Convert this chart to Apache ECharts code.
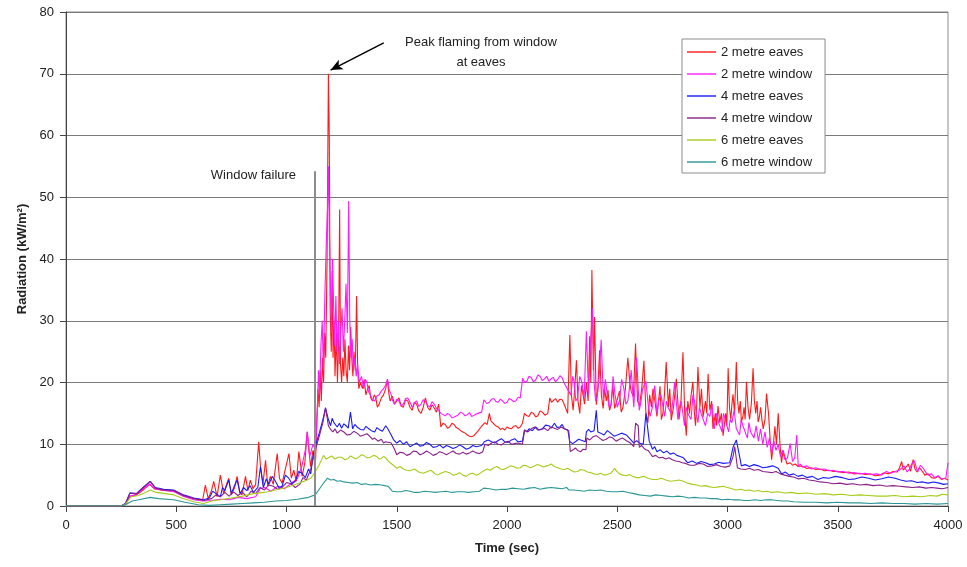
<!DOCTYPE html>
<html>
<head>
<meta charset="utf-8">
<title>Radiation vs time</title>
<script src="https://cdn.jsdelivr.net/npm/echarts@6/dist/echarts.min.js"></script>
<style>
  html, body { margin: 0; padding: 0; background: #fff; }
  #chart { width: 967px; height: 567px; }
</style>
</head>
<body>
<div id="chart"></div>
<script>
// [time (sec), radiation (kW/m2)]
const seriesNames = ['2 metre eaves', '2 metre window', '4 metre eaves', '4 metre window', '6 metre eaves', '6 metre window']
const seriesColors = ['#ff1a1a', '#ff1aff', '#1a1aff', '#8a1f8a', '#a6cc1a', '#2a9696']

const eaves2 = [
  [0, 0], [250, 0], [270, 0.3], [290, 1.5], [320, 1.8], [350, 2.6], [380, 3.5], [400, 2.8], [440, 2.5], [490, 2.4],
  [530, 1.7], [580, 1.2], [620, 1.0], [632, 3.4], [645, 1.2], [660, 2.5], [670, 4.0], [685, 1.5], [700, 5.0], [715, 2.0],
  [728, 3.5], [738, 4.5], [750, 1.8], [765, 3.0], [776, 4.8], [788, 2.2], [798, 1.8], [814, 4.8], [825, 2.5], [836, 4.2],
  [848, 2.8], [860, 3.5], [874, 10.4], [882, 6.4], [893, 3.5], [905, 7.4], [915, 3.2], [927, 4.8], [940, 3.5], [958, 8.5],
  [968, 4.5], [980, 3.7], [995, 6.0], [1011, 8.5], [1022, 4.5], [1033, 5.8], [1045, 4.0], [1056, 8.8], [1071, 4.8], [1083, 7.0],
  [1094, 12.0], [1109, 6.4], [1120, 9.0], [1132, 7.5], [1138, 14], [1143, 19], [1148, 16], [1153, 22], [1158, 17], [1163, 24],
  [1168, 20], [1173, 28], [1178, 24], [1184, 40], [1190, 70], [1194, 60], [1198, 32], [1203, 25], [1207, 38], [1211, 24],
  [1216, 30], [1220, 21], [1226, 28], [1231, 20], [1236, 26], [1241, 48], [1245, 23], [1250, 20], [1255, 24], [1260, 21],
  [1265, 27], [1270, 22], [1276, 20], [1281, 26], [1286, 22], [1291, 29], [1296, 24], [1301, 21], [1306, 25], [1312, 22],
  [1318, 34], [1323, 22], [1328, 19], [1335, 20], [1345, 19], [1352, 20.5], [1360, 18], [1368, 19], [1375, 19.5], [1382, 17.5],
  [1390, 17], [1398, 18], [1405, 17.5], [1412, 16], [1420, 16.5], [1430, 17.5], [1440, 18], [1450, 19], [1458, 20.5], [1465, 18],
  [1470, 17], [1480, 17.8], [1490, 16.5], [1500, 17], [1510, 17.5], [1520, 16.2], [1530, 16], [1540, 17.2], [1550, 17], [1560, 16],
  [1570, 15.5], [1580, 16.8], [1590, 16.5], [1600, 15.4], [1610, 15], [1620, 16], [1630, 17.5], [1640, 16], [1650, 15.5], [1660, 16.4],
  [1668, 16], [1680, 15.2], [1690, 16.5], [1700, 12.8], [1710, 13.4], [1720, 13.2], [1730, 12.6], [1740, 12.8], [1750, 13.4], [1760, 13.2],
  [1770, 12.7], [1780, 12.5], [1790, 12.2], [1800, 12.0], [1810, 11.8], [1820, 11.5], [1830, 11.3], [1840, 11.2], [1850, 11.4], [1860, 11.8],
  [1870, 12.2], [1882, 12.8], [1890, 13.0], [1900, 13.5], [1910, 13.2], [1920, 15], [1927, 13.8], [1935, 13.5], [1948, 13.0], [1960, 12.8],
  [1970, 12.4], [1980, 12.6], [1990, 12.3], [2000, 12.8], [2010, 12.6], [2020, 12.5], [2030, 12.9], [2040, 13], [2050, 12.6], [2060, 12.8],
  [2070, 13.4], [2079, 15], [2090, 14.6], [2100, 14.5], [2110, 15.2], [2120, 15], [2130, 14.4], [2140, 14.6], [2150, 15.4], [2160, 15.2],
  [2172, 14.7], [2185, 15], [2194, 17.5], [2202, 16.8], [2210, 17], [2220, 17.4], [2230, 16.8], [2240, 17.3], [2250, 17.2], [2258, 16.6],
  [2265, 16.5], [2275, 15], [2285, 27.7], [2292, 18], [2300, 15.5], [2307, 19], [2315, 23.6], [2322, 17], [2330, 15], [2338, 19.5],
  [2345, 18], [2352, 16.5], [2360, 20], [2368, 17], [2375, 27.5], [2380, 20], [2385, 38.2], [2392, 22], [2397, 30.6], [2405, 16.4],
  [2412, 19], [2420, 25.2], [2428, 18], [2436, 15.8], [2443, 19], [2450, 17], [2458, 18.8], [2465, 15.5], [2472, 16.4], [2480, 19.5],
  [2488, 15.8], [2498, 17], [2510, 18.6], [2518, 15.2], [2526, 16], [2537, 19], [2548, 24], [2557, 20], [2563, 18.6], [2573, 17.7],
  [2583, 26.3], [2592, 17], [2601, 16.2], [2611, 19], [2621, 23.5], [2630, 15], [2639, 13.5], [2647, 18], [2655, 16], [2662, 19],
  [2669, 17.4], [2680, 14.5], [2694, 19.4], [2700, 14], [2707, 15], [2714, 18], [2722, 23.3], [2732, 16], [2738, 19], [2745, 13.9],
  [2755, 16], [2768, 20.6], [2780, 14], [2789, 17], [2798, 24.9], [2806, 15], [2813, 11.4], [2820, 17], [2828, 15], [2835, 18],
  [2843, 20.1], [2850, 15], [2855, 13], [2860, 16], [2866, 22.5], [2875, 16], [2882, 19], [2889, 14.4], [2900, 17], [2906, 15],
  [2912, 21.4], [2920, 15.5], [2928, 17], [2934, 12.5], [2945, 15], [2951, 13], [2957, 16.2], [2965, 13.5], [2972, 15], [2980, 11.4],
  [2992, 15], [2997, 13], [3003, 22.3], [3009, 16], [3015, 14], [3020, 16.5], [3025, 18.1], [3032, 15], [3040, 23.3], [3046, 17],
  [3052, 15], [3058, 17], [3063, 13.6], [3070, 14.5], [3075, 16], [3080, 14], [3086, 20.1], [3093, 16], [3100, 14], [3108, 16.5],
  [3116, 22.3], [3122, 17], [3128, 15], [3134, 17], [3139, 13.6], [3145, 14.5], [3150, 16], [3156, 14], [3162, 12.5], [3170, 14],
  [3177, 18.2], [3186, 15], [3193, 11], [3200, 7.5], [3208, 10], [3215, 12.9], [3222, 10], [3230, 15], [3238, 10], [3245, 7],
  [3252, 9], [3260, 8], [3270, 6.8], [3285, 7], [3295, 6.6], [3307, 6.8], [3320, 6.4], [3337, 6.5], [3358, 6.1], [3380, 6.2],
  [3400, 5.9], [3420, 6.0], [3440, 5.7], [3460, 5.8], [3480, 5.6], [3500, 5.6], [3525, 5.4], [3550, 5.5], [3575, 5.2], [3600, 5.3],
  [3625, 5.1], [3650, 5.2], [3670, 4.9], [3690, 5.0], [3710, 5.4], [3730, 5.2], [3750, 5.6], [3770, 5.5], [3780, 6.2], [3790, 7.2],
  [3797, 5.8], [3805, 5.5], [3812, 6.4], [3820, 6.8], [3830, 5.6], [3842, 7.5], [3850, 6.0], [3860, 5.5], [3870, 6.2], [3880, 5.8],
  [3895, 5.0], [3910, 5.2], [3925, 4.6], [3940, 4.5], [3955, 4.8], [3970, 4.3], [3985, 4.5], [4000, 4.2]
]

const window2 = [
  [0, 0], [250, 0], [270, 0.3], [290, 1.6], [320, 1.9], [350, 2.8], [380, 3.6], [400, 2.8], [440, 2.6], [490, 2.3],
  [530, 1.6], [580, 1.0], [620, 0.8], [660, 0.9], [700, 1.1], [740, 1.0], [780, 1.4], [820, 1.2], [860, 1.5], [880, 2.8],
  [900, 3.0], [930, 2.4], [960, 3.2], [990, 2.8], [1020, 3.6], [1050, 4.5], [1070, 6.5], [1085, 9.0], [1094, 12.0], [1105, 8.0],
  [1120, 10], [1132, 9], [1140, 16], [1145, 22], [1150, 18], [1156, 26], [1162, 30], [1167, 22], [1174, 34], [1180, 42],
  [1186, 48], [1190, 55], [1194, 45], [1199, 36], [1204, 28], [1209, 40], [1214, 32], [1219, 26], [1224, 34], [1229, 25],
  [1235, 30], [1240, 23], [1246, 28], [1252, 32], [1258, 25], [1264, 30], [1270, 36], [1276, 28], [1282, 49.4], [1287, 30],
  [1292, 24], [1298, 27], [1303, 22], [1310, 24], [1316, 21], [1322, 23], [1330, 20], [1340, 21], [1350, 19], [1358, 20.5],
  [1365, 20], [1372, 18.5], [1380, 18], [1390, 17.2], [1400, 17], [1410, 17.8], [1420, 18], [1430, 18.6], [1440, 19], [1450, 19.6],
  [1458, 20.5], [1466, 18.8], [1475, 18], [1482, 17], [1490, 16.5], [1500, 17.3], [1510, 17], [1520, 16.2], [1530, 16.5], [1540, 17.4],
  [1550, 17.5], [1560, 16.8], [1570, 16], [1580, 16.7], [1590, 17], [1600, 16.1], [1610, 16.5], [1620, 17.2], [1630, 17], [1640, 16.3],
  [1650, 16], [1660, 16.9], [1670, 16.5], [1680, 15.8], [1690, 15.5], [1700, 15], [1710, 14.8], [1720, 14.6], [1730, 15.0], [1740, 14.8],
  [1750, 14.3], [1760, 14.4], [1777, 14.7], [1790, 15.2], [1800, 15], [1810, 14.6], [1820, 14.8], [1830, 15.1], [1840, 14.5], [1855, 14.8],
  [1868, 15], [1885, 15.2], [1895, 17.2], [1908, 16.6], [1920, 16.8], [1930, 17.3], [1940, 17.4], [1950, 16.9], [1960, 16.8], [1970, 17.3],
  [1980, 17], [1990, 16.6], [2000, 16.8], [2010, 17.4], [2020, 17.2], [2030, 16.9], [2040, 17], [2050, 17.6], [2060, 17.5], [2071, 20.7],
  [2080, 20.0], [2090, 20.2], [2100, 21.0], [2110, 20.8], [2120, 20.1], [2130, 20.4], [2140, 21.2], [2150, 21], [2160, 20.3], [2170, 20.6],
  [2180, 21.0], [2190, 20.2], [2200, 20.6], [2210, 20.8], [2220, 20.1], [2230, 20.5], [2240, 21.1], [2250, 20.8], [2258, 20.0], [2265, 20.2],
  [2276, 18.8], [2290, 18], [2298, 21], [2305, 20], [2312, 17], [2320, 17.5], [2330, 21], [2340, 20], [2350, 17.5], [2360, 28.3],
  [2370, 18], [2378, 26], [2388, 32], [2395, 20], [2402, 17], [2410, 18], [2418, 21], [2427, 26.9], [2437, 17.5], [2446, 20.5],
  [2455, 18], [2463, 16], [2472, 16.4], [2481, 21], [2490, 18], [2500, 16], [2510, 17], [2520, 20.5], [2530, 19], [2539, 16.5],
  [2548, 17], [2555, 19], [2563, 22], [2575, 16], [2588, 24], [2600, 15.5], [2608, 17], [2615, 19], [2630, 20.2], [2640, 16.5],
  [2649, 14.5], [2660, 16], [2670, 19.5], [2680, 15], [2688, 17], [2698, 18], [2715, 14.5], [2723, 17], [2730, 16], [2745, 15],
  [2752, 17], [2760, 20], [2775, 14], [2782, 16], [2790, 17], [2805, 13], [2812, 16], [2820, 15], [2835, 14], [2843, 18],
  [2850, 17], [2866, 13.5], [2873, 16], [2880, 15], [2900, 13], [2910, 15], [2920, 14.5], [2930, 16.5], [2940, 12.5], [2950, 15],
  [2960, 13.5], [2975, 12], [2982, 15], [2990, 14], [3005, 12], [3012, 14], [3020, 13.5], [3030, 15.5], [3040, 12.5], [3055, 11.5],
  [3062, 14], [3070, 13], [3090, 11], [3097, 13.5], [3105, 12], [3120, 11], [3130, 13], [3140, 10.5], [3150, 12.5], [3160, 10],
  [3170, 12], [3180, 9.5], [3190, 11], [3200, 8.5], [3210, 10.5], [3220, 9], [3230, 10], [3240, 8], [3250, 9], [3260, 7.5],
  [3272, 7.8], [3284, 10.1], [3295, 7.2], [3305, 7.8], [3314, 11.5], [3321, 6.4], [3330, 6.8], [3340, 6.3], [3360, 6.5], [3380, 6.0],
  [3400, 6.2], [3420, 5.9], [3440, 6.0], [3460, 5.7], [3480, 5.8], [3500, 5.5], [3525, 5.6], [3550, 5.3], [3575, 5.4], [3600, 5.2],
  [3625, 5.3], [3650, 5.1], [3675, 5.2], [3700, 5.0], [3720, 5.6], [3740, 5.3], [3760, 5.6], [3780, 5.8], [3800, 6.5], [3815, 5.5],
  [3825, 6.0], [3835, 6.8], [3848, 7.3], [3862, 5.5], [3875, 6.6], [3890, 6.0], [3900, 5.4], [3910, 5.0], [3925, 5.2], [3940, 4.6],
  [3955, 4.9], [3970, 4.4], [3990, 4.5], [4000, 7.0]
]

const eaves4 = [
  [0, 0], [250, 0], [270, 0.4], [290, 2.1], [320, 2.0], [350, 3.0], [382, 4.0], [405, 3.0], [443, 2.7], [488, 2.6],
  [533, 1.8], [579, 1.3], [624, 1.0], [650, 1.3], [665, 2.4], [680, 2.0], [700, 1.5], [710, 3.0], [720, 2.5], [738, 4.2],
  [750, 2.0], [763, 3.2], [776, 4.2], [790, 2.0], [805, 3.0], [820, 2.5], [835, 3.3], [850, 2.2], [870, 3.0], [882, 6.4],
  [895, 3.0], [908, 4.4], [920, 3.5], [935, 4.8], [950, 4.0], [965, 3.0], [980, 3.2], [995, 5.0], [1010, 4.5], [1025, 3.6],
  [1040, 4.0], [1055, 5.6], [1070, 5.3], [1085, 4.6], [1100, 6.0], [1110, 5.2], [1120, 8.0], [1135, 10.2], [1150, 12], [1165, 14],
  [1177, 15.9], [1190, 14], [1200, 13], [1207, 14.2], [1215, 13.5], [1230, 12.8], [1240, 13.4], [1250, 12.6], [1260, 13.3], [1270, 13],
  [1280, 12.6], [1290, 15.2], [1300, 12.5], [1310, 13.2], [1320, 12.8], [1335, 12.4], [1350, 12.3], [1360, 12.9], [1370, 12.6], [1385, 12.2],
  [1400, 12.0], [1410, 12.7], [1420, 12.4], [1435, 12.1], [1450, 13], [1458, 12.6], [1475, 11.5], [1486, 10.7], [1500, 10.2], [1515, 10.6],
  [1530, 10.0], [1545, 10.4], [1560, 9.6], [1575, 9.9], [1590, 10.2], [1605, 9.7], [1620, 9.8], [1635, 10.3], [1650, 10.0], [1665, 9.5],
  [1680, 9.6], [1695, 9.9], [1710, 9.4], [1725, 9.8], [1740, 9.6], [1755, 9.3], [1770, 9.5], [1785, 9.9], [1800, 9.6], [1815, 9.2],
  [1830, 9.4], [1845, 9.8], [1860, 9.6], [1885, 9.8], [1897, 10.4], [1915, 10.7], [1930, 10.4], [1945, 10.2], [1960, 10.6], [1975, 10.9],
  [1990, 10.4], [2005, 10.3], [2020, 10.7], [2035, 10.9], [2050, 10.4], [2070, 10.5], [2079, 12.3], [2090, 12.0], [2100, 12.5], [2115, 12.2],
  [2130, 12.8], [2145, 12.3], [2160, 12.5], [2175, 13.1], [2190, 13], [2200, 12.6], [2215, 13.4], [2228, 12.7], [2240, 12.8], [2250, 13.2],
  [2260, 12.5], [2276, 12.3], [2285, 10.4], [2298, 10.1], [2310, 10.4], [2325, 10.8], [2340, 10.6], [2355, 10.4], [2360, 12.0], [2370, 12.4],
  [2380, 12.0], [2395, 12.2], [2405, 15.5], [2412, 12], [2425, 11.8], [2440, 11.5], [2455, 12.2], [2470, 11.8], [2485, 11.3], [2500, 11.5],
  [2520, 11.8], [2541, 11.5], [2560, 10.8], [2575, 10.2], [2588, 10.6], [2600, 10.2], [2618, 10], [2630, 15.0], [2645, 10.5], [2660, 9.2],
  [2670, 9.6], [2680, 8.8], [2695, 9.1], [2710, 8.6], [2725, 8.9], [2740, 8.4], [2755, 8.6], [2770, 8.2], [2785, 8.0], [2800, 7.8],
  [2820, 7.0], [2840, 7.3], [2860, 6.9], [2880, 7.2], [2900, 7.0], [2920, 6.7], [2940, 6.8], [2960, 7.1], [2980, 6.9], [3010, 7.0],
  [3025, 9.5], [3040, 10.7], [3055, 8], [3063, 6.5], [3080, 6.7], [3100, 6.4], [3120, 6.7], [3140, 6.5], [3160, 6.2], [3180, 6.3],
  [3205, 6.5], [3230, 6.1], [3245, 5.2], [3262, 5.5], [3280, 5.0], [3300, 5.2], [3320, 4.8], [3340, 5.0], [3360, 4.6], [3385, 4.8],
  [3410, 4.3], [3435, 4.6], [3460, 4.5], [3490, 4.8], [3520, 4.6], [3550, 4.3], [3580, 4.4], [3610, 4.7], [3640, 4.5], [3670, 4.2],
  [3700, 4.4], [3730, 4.7], [3760, 4.5], [3785, 4.2], [3810, 4.0], [3835, 4.1], [3860, 3.8], [3885, 3.9], [3910, 3.7], [3935, 3.9],
  [3960, 3.7], [3980, 3.5], [4000, 3.6]
]

const window4 = [
  [0, 0], [250, 0], [270, 0.4], [290, 2.1], [320, 2.0], [350, 3.0], [382, 4.0], [405, 2.9], [443, 2.6], [488, 2.5],
  [533, 1.7], [579, 1.2], [624, 0.9], [660, 1.2], [680, 1.8], [700, 1.5], [720, 2.2], [740, 1.6], [760, 2.3], [780, 1.7],
  [800, 2.2], [820, 1.5], [840, 2.4], [860, 2.0], [880, 3.0], [900, 2.6], [920, 3.4], [940, 3.2], [960, 2.7], [980, 3.0],
  [1000, 3.8], [1020, 3.6], [1040, 3.0], [1060, 3.5], [1075, 4.6], [1090, 4.2], [1110, 6.0], [1130, 9.0], [1150, 11.5], [1165, 13.5],
  [1177, 15.9], [1190, 13.0], [1200, 12.4], [1210, 12.0], [1220, 12.5], [1230, 11.8], [1245, 12.3], [1260, 12.0], [1275, 11.5], [1290, 11.6],
  [1305, 12.1], [1320, 11.8], [1335, 11.3], [1350, 11.5], [1365, 11.7], [1380, 11.2], [1390, 10.8], [1400, 11], [1415, 10.5], [1430, 10.8],
  [1440, 10.2], [1450, 10.4], [1475, 10.2], [1490, 9.2], [1500, 8.3], [1515, 8.7], [1530, 8.6], [1545, 8.2], [1560, 8.4], [1575, 8.9],
  [1590, 8.8], [1605, 8.3], [1620, 8.5], [1635, 8.9], [1650, 8.6], [1665, 8.2], [1680, 8.4], [1695, 8.8], [1710, 8.6], [1725, 8.3],
  [1740, 8.6], [1755, 8.9], [1770, 8.5], [1785, 8.4], [1800, 8.7], [1815, 8.4], [1830, 8.6], [1845, 8.9], [1860, 8.6], [1875, 8.5],
  [1890, 8.8], [1900, 10.0], [1915, 9.8], [1930, 10.2], [1945, 10.4], [1960, 10.0], [1975, 9.9], [1990, 10.3], [2005, 10.5], [2020, 10.0],
  [2035, 10.1], [2050, 10.2], [2070, 10.0], [2080, 12.3], [2095, 12.0], [2110, 12.5], [2125, 12.8], [2140, 12.3], [2155, 12.4], [2170, 12.6],
  [2185, 12.2], [2200, 12.8], [2215, 12.6], [2230, 12.4], [2245, 12.8], [2260, 12.5], [2280, 12.2], [2287, 8.8], [2300, 9.1], [2310, 9.4],
  [2320, 9.0], [2335, 8.8], [2345, 9.2], [2358, 9.1], [2362, 11.0], [2375, 10.7], [2390, 11.2], [2405, 11.4], [2420, 11.0], [2435, 10.6],
  [2450, 10.8], [2465, 11.2], [2480, 11.0], [2495, 10.5], [2510, 10.8], [2525, 11.0], [2540, 10.6], [2560, 10.2], [2575, 9.6], [2583, 13.4],
  [2595, 13.0], [2600, 9.5], [2610, 9.8], [2620, 9.4], [2630, 9.1], [2640, 9.0], [2650, 8.5], [2660, 8.0], [2675, 8.2], [2690, 7.8],
  [2705, 7.9], [2720, 7.6], [2735, 7.8], [2750, 7.5], [2765, 7.3], [2780, 7.2], [2795, 7.0], [2810, 6.9], [2830, 6.6], [2850, 6.6],
  [2870, 6.9], [2890, 6.8], [2910, 6.4], [2930, 6.5], [2950, 6.7], [2970, 6.4], [2990, 6.3], [3010, 6.5], [3025, 8], [3033, 9.6],
  [3045, 6.2], [3060, 6.0], [3080, 5.9], [3100, 6.1], [3120, 5.8], [3140, 5.9], [3160, 5.6], [3180, 5.5], [3200, 5.4], [3220, 5.6],
  [3240, 5.2], [3260, 5.0], [3280, 4.8], [3300, 4.7], [3320, 4.4], [3345, 4.5], [3370, 4.2], [3395, 4.1], [3420, 3.9], [3450, 3.8],
  [3480, 3.6], [3510, 3.7], [3540, 3.5], [3570, 3.6], [3600, 3.4], [3630, 3.5], [3660, 3.3], [3690, 3.4], [3720, 3.2], [3750, 3.3],
  [3780, 3.2], [3810, 3.1], [3840, 3.0], [3870, 3.1], [3900, 2.9], [3925, 3.0], [3950, 2.9], [3975, 2.8], [4000, 3.0]
]

const eaves6 = [
  [0, 0], [250, 0], [270, 0.3], [295, 1.5], [330, 1.7], [360, 2.2], [382, 2.6], [410, 2.2], [450, 2.0], [490, 1.8],
  [530, 1.2], [580, 0.7], [624, 0.4], [660, 0.8], [700, 1.0], [750, 1.3], [800, 1.6], [850, 2.0], [900, 2.2], [950, 2.6],
  [1000, 3.0], [1050, 3.6], [1080, 4.0], [1110, 4.5], [1130, 5.5], [1150, 6.8], [1168, 8.2], [1180, 7.6], [1190, 7.8], [1205, 8.1],
  [1220, 7.6], [1235, 7.9], [1250, 7.9], [1265, 7.5], [1280, 7.7], [1290, 8.1], [1300, 7.9], [1315, 7.6], [1330, 8.0], [1340, 8.3],
  [1350, 8.2], [1365, 7.8], [1380, 7.9], [1395, 8.2], [1410, 8.0], [1420, 7.6], [1430, 7.7], [1440, 8.0], [1450, 7.8], [1460, 7.3],
  [1470, 7.0], [1485, 6.6], [1500, 6.1], [1515, 6.4], [1530, 6.0], [1545, 5.8], [1560, 5.7], [1580, 6.0], [1600, 5.5], [1620, 5.3],
  [1640, 5.6], [1655, 5.8], [1670, 5.3], [1685, 5.0], [1700, 5.3], [1720, 5.6], [1740, 5.4], [1755, 5.0], [1770, 5.1], [1785, 5.4],
  [1800, 5.0], [1815, 4.8], [1830, 5.2], [1845, 5.3], [1860, 5.0], [1870, 5.1], [1882, 5.4], [1895, 5.7], [1910, 6.0], [1925, 5.8],
  [1940, 6.2], [1955, 6.4], [1970, 6.0], [1985, 5.9], [2000, 6.2], [2015, 6.5], [2030, 6.4], [2045, 6.1], [2060, 6.2], [2075, 6.6],
  [2090, 6.5], [2105, 6.2], [2120, 6.4], [2135, 6.7], [2150, 6.6], [2165, 6.3], [2180, 6.5], [2190, 6.6], [2200, 6.8], [2215, 6.4],
  [2230, 6.2], [2245, 6.0], [2260, 5.9], [2275, 6.1], [2290, 5.8], [2305, 5.5], [2320, 5.6], [2335, 5.9], [2350, 5.8], [2365, 5.5],
  [2380, 5.4], [2395, 5.2], [2410, 5.1], [2425, 5.3], [2440, 5.0], [2455, 5.1], [2470, 5.3], [2480, 5.7], [2488, 6.1], [2498, 5.6],
  [2510, 5.2], [2525, 5.0], [2540, 4.9], [2555, 5.1], [2570, 4.8], [2585, 4.6], [2600, 4.6], [2620, 4.8], [2640, 4.5], [2660, 4.3],
  [2680, 4.3], [2700, 4.5], [2720, 4.2], [2740, 4.0], [2760, 4.1], [2780, 4.2], [2800, 4.0], [2820, 3.7], [2840, 3.5], [2860, 3.4],
  [2880, 3.2], [2900, 3.3], [2920, 3.1], [2940, 3.0], [2960, 3.1], [2980, 3.2], [3000, 3.0], [3020, 2.8], [3040, 2.6], [3060, 2.7],
  [3080, 2.5], [3100, 2.6], [3120, 2.4], [3140, 2.5], [3160, 2.3], [3180, 2.4], [3200, 2.2], [3230, 2.3], [3260, 2.1], [3290, 2.2],
  [3320, 2.0], [3360, 2.1], [3400, 1.9], [3440, 2.0], [3480, 1.8], [3520, 1.9], [3560, 1.7], [3600, 1.8], [3640, 1.7], [3680, 1.6],
  [3720, 1.6], [3760, 1.7], [3800, 1.5], [3840, 1.6], [3880, 1.5], [3920, 1.7], [3950, 1.6], [3975, 1.9], [4000, 1.8]
]

const window6 = [
  [0, 0], [250, 0], [270, 0.2], [300, 0.8], [330, 1.0], [382, 1.4], [420, 1.2], [488, 1.0], [540, 0.6], [600, 0.2],
  [650, 0.1], [700, 0.2], [750, 0.3], [800, 0.4], [850, 0.5], [900, 0.6], [950, 0.8], [1000, 0.9], [1050, 1.1], [1100, 1.4],
  [1130, 1.8], [1150, 2.8], [1170, 3.8], [1186, 4.5], [1200, 4.2], [1215, 4.3], [1230, 4.0], [1245, 4.1], [1260, 3.9], [1280, 3.8],
  [1300, 3.7], [1320, 3.8], [1340, 3.5], [1360, 3.6], [1380, 3.4], [1405, 3.5], [1430, 3.4], [1445, 3.3], [1460, 3.2], [1470, 2.8],
  [1480, 2.4], [1500, 2.3], [1520, 2.3], [1540, 2.5], [1560, 2.4], [1580, 2.2], [1600, 2.2], [1625, 2.4], [1650, 2.3], [1675, 2.2],
  [1700, 2.3], [1725, 2.4], [1750, 2.2], [1775, 2.3], [1800, 2.3], [1825, 2.2], [1850, 2.3], [1875, 2.4], [1895, 2.9], [1920, 2.8],
  [1950, 2.6], [1975, 2.7], [2000, 2.7], [2025, 2.9], [2050, 2.8], [2075, 2.7], [2100, 2.9], [2125, 3.0], [2150, 2.7], [2175, 2.9],
  [2200, 3.0], [2225, 2.9], [2250, 2.8], [2270, 3.0], [2280, 2.6], [2300, 2.6], [2325, 2.5], [2350, 2.4], [2375, 2.6], [2400, 2.5],
  [2425, 2.6], [2450, 2.4], [2475, 2.3], [2500, 2.3], [2525, 2.4], [2550, 2.2], [2575, 2.0], [2600, 1.8], [2625, 1.7], [2650, 1.6],
  [2675, 1.8], [2700, 1.7], [2725, 1.6], [2750, 1.5], [2775, 1.6], [2800, 1.5], [2825, 1.3], [2850, 1.4], [2875, 1.3], [2900, 1.3],
  [2925, 1.2], [2950, 1.2], [2975, 1.0], [3000, 1.1], [3025, 1.0], [3050, 1.0], [3075, 0.9], [3100, 0.9], [3125, 1.0], [3150, 0.9],
  [3175, 1.0], [3200, 1.0], [3225, 0.9], [3250, 0.8], [3275, 0.8], [3300, 0.7], [3350, 0.6], [3400, 0.6], [3450, 0.5], [3500, 0.6],
  [3550, 0.5], [3600, 0.5], [3650, 0.4], [3700, 0.5], [3750, 0.4], [3800, 0.4], [3850, 0.3], [3900, 0.4], [3950, 0.3], [4000, 0.4]
]

// annotations (data coordinates)
const peakArrow = [[1441, 75.0], [1200, 70.6]]
const peakLabel = [1882, 73.4]
const failureLine = [[1127, 54.2], [1127, 0]]
const failureLabel = [850, 53.6]

const allData = [eaves2, window2, eaves4, window4, eaves6, window6]
const textColor = '#222'
const font = 'Arial, "Liberation Sans", sans-serif'
// flat line icon for the legend (the outer moves pin the icon box to 29 x 14)
const legendLine = 'path://M0,0 M0,6.3 L29,6.3 L29,7.7 L0,7.7 Z M29,14'

const chart = echarts.init(document.getElementById('chart'), null, { renderer: 'canvas' })

const series = allData.map((d, i) => ({
  name: seriesNames[i],
  type: 'line',
  data: d,
  symbol: 'none',
  showSymbol: false,
  animation: false,
  color: seriesColors[i],
  lineStyle: { width: 1.1, color: seriesColors[i] },
  emphasis: { disabled: true }
}))

// arrow to the peak + its label
series[0].markLine = {
  silent: true,
  animation: false,
  symbol: ['none', 'arrow'],
  symbolSize: [8, 12],
  label: { show: false },
  lineStyle: { color: '#000', width: 1.5, type: 'solid' },
  data: [[{ coord: peakArrow[0] }, { coord: peakArrow[1] }]]
}
series[0].markPoint = {
  silent: true,
  animation: false,
  symbol: 'rect',
  symbolSize: 0,
  label: {
    show: true,
    position: 'inside',
    formatter: 'Peak flaming from window\nat eaves',
    color: textColor,
    fontFamily: font,
    fontSize: 13,
    lineHeight: 20,
    align: 'center'
  },
  data: [{ coord: peakLabel }]
}
// window failure marker
series[1].markLine = {
  silent: true,
  animation: false,
  symbol: ['none', 'none'],
  label: { show: false },
  lineStyle: { color: '#8c8c8c', width: 2, type: 'solid' },
  data: [[{ coord: failureLine[0] }, { coord: failureLine[1] }]]
}
series[1].markPoint = {
  silent: true,
  animation: false,
  symbol: 'rect',
  symbolSize: 0,
  label: {
    show: true,
    position: 'inside',
    formatter: 'Window failure',
    color: textColor,
    fontFamily: font,
    fontSize: 13
  },
  data: [{ coord: failureLabel }]
}

const option = {
  animation: false,
  backgroundColor: '#fff',
  textStyle: { fontFamily: font },
  grid: {
    left: 66,
    right: 19,
    top: 12,
    bottom: 61,
    show: true,
    borderColor: '#8c8c8c',
    borderWidth: 1,
    backgroundColor: 'transparent'
  },
  legend: {
    orient: 'vertical',
    left: 682,
    top: 39,
    data: seriesNames.map(n => ({ name: n, icon: legendLine })),
    itemWidth: 29,
    itemHeight: 14,
    itemGap: 8,
    padding: [6, 13, 4, 5],
    backgroundColor: '#fff',
    borderColor: '#8c8c8c',
    borderWidth: 1,
    borderRadius: 0,
    selectedMode: false,
    textStyle: { color: textColor, fontSize: 13, fontFamily: font }
  },
  xAxis: {
    type: 'value',
    min: 0,
    max: 4000,
    interval: 500,
    name: 'Time (sec)',
    nameLocation: 'middle',
    nameGap: 36,
    nameTextStyle: { color: textColor, fontWeight: 'bold', fontSize: 13, fontFamily: font },
    axisLine: { show: true, onZero: false, lineStyle: { color: '#444', width: 1 } },
    axisTick: { show: true, inside: false, length: 6, lineStyle: { color: '#444' } },
    axisLabel: { color: textColor, fontSize: 13, margin: 13, fontFamily: font, formatter: v => String(v) },
    splitLine: { show: false }
  },
  yAxis: {
    type: 'value',
    min: 0,
    max: 80,
    interval: 10,
    name: 'Radiation (kW/m²)',
    nameLocation: 'middle',
    nameRotate: 90,
    nameGap: 36,
    nameTextStyle: { color: textColor, fontWeight: 'bold', fontSize: 13, fontFamily: font },
    axisLine: { show: true, lineStyle: { color: '#444', width: 1 } },
    axisTick: { show: true, inside: false, length: 6, lineStyle: { color: '#444' } },
    axisLabel: { color: textColor, fontSize: 13, margin: 12, fontFamily: font },
    splitLine: { show: true, lineStyle: { color: '#7a7a7a', width: 1 } }
  },
  series: series
}

chart.setOption(option)
</script>
</body>
</html>
